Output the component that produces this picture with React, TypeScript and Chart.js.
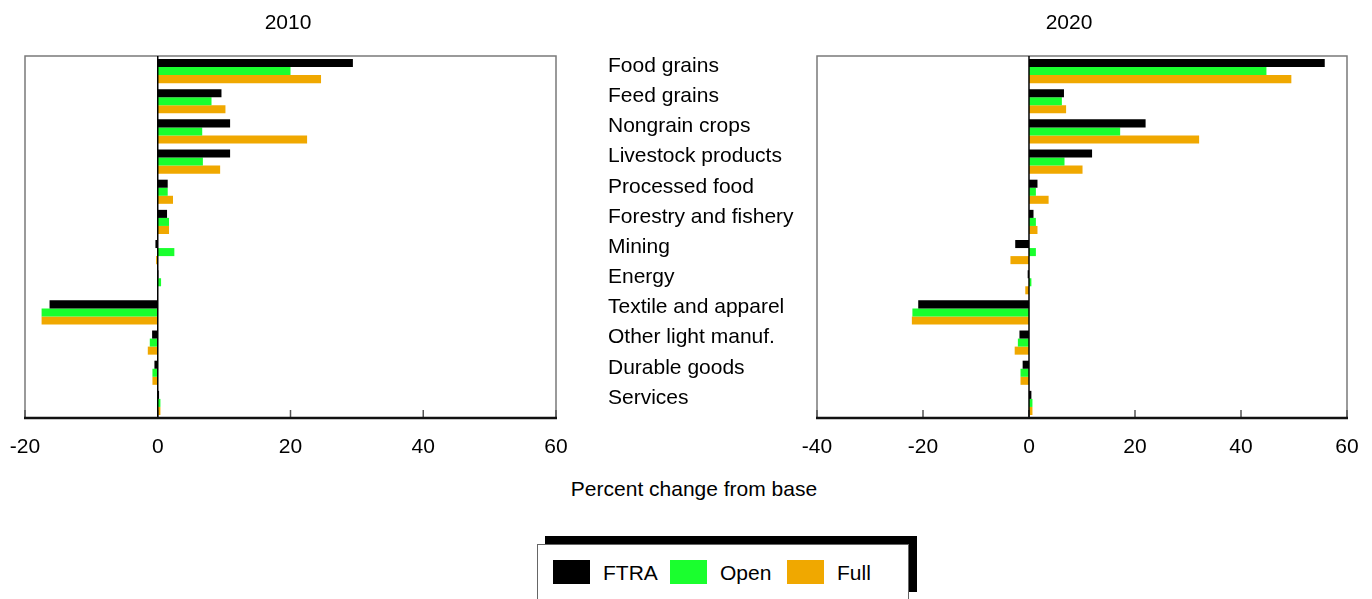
import React, { useEffect, useRef } from "react";
import { Chart, registerables } from "chart.js";

Chart.register(...registerables);

const FONT = '"Liberation Sans", Arial, Helvetica, sans-serif';

const categories = [
  "Food grains",
  "Feed grains",
  "Nongrain crops",
  "Livestock products",
  "Processed food",
  "Forestry and fishery",
  "Mining",
  "Energy",
  "Textile and apparel",
  "Other light manuf.",
  "Durable goods",
  "Services",
];

const seriesNames = ["FTRA", "Open", "Full"];
const seriesColors = ["#000000", "#1AFF2E", "#F0A800"];

const ftra2010 = [29.4, 9.6, 10.9, 10.9, 1.5, 1.4, -0.35, 0.1, -16.3, -0.85, -0.5, 0.2];
const open2010 = [20.0, 8.1, 6.7, 6.8, 1.5, 1.7, 2.5, 0.5, -17.5, -1.2, -0.8, 0.4];
const full2010 = [24.6, 10.2, 22.5, 9.4, 2.3, 1.7, -0.25, -0.1, -17.5, -1.5, -0.8, 0.4];

const ftra2020 = [55.8, 6.6, 22.0, 11.9, 1.6, 0.85, -2.6, -0.25, -20.9, -1.8, -1.2, 0.45];
const open2020 = [44.8, 6.2, 17.2, 6.7, 1.3, 1.3, 1.3, 0.45, -22.0, -2.1, -1.6, 0.65];
const full2020 = [49.5, 7.0, 32.1, 10.1, 3.7, 1.6, -3.5, -0.7, -22.1, -2.7, -1.6, 0.65];

const xMin2010 = -20;
const xMax2010 = 60;
const xMin2020 = -40;
const xMax2020 = 60;
const tickStep = 20;

const panelTitles = ["2010", "2020"];
const axisTitle = "Percent change from base";

const framePlugin = {
  id: "frameAndTicks",
  afterDatasetsDraw(chart: any) {
    const { ctx, chartArea: a, scales } = chart;
    const x = scales.x;
    ctx.save();
    // frame (top, left, right)
    ctx.strokeStyle = "#7a7a7a";
    ctx.lineWidth = 1.5;
    ctx.beginPath();
    ctx.moveTo(a.left, a.bottom);
    ctx.lineTo(a.left, a.top);
    ctx.lineTo(a.right, a.top);
    ctx.lineTo(a.right, a.bottom);
    ctx.stroke();
    // inward tick marks
    ctx.strokeStyle = "#555555";
    ctx.lineWidth = 1.5;
    x.ticks.forEach((t: any) => {
      const px = x.getPixelForValue(t.value);
      ctx.beginPath();
      ctx.moveTo(px, a.bottom);
      ctx.lineTo(px, a.bottom - 8);
      ctx.stroke();
    });
    // zero line
    const z = x.getPixelForValue(0);
    ctx.strokeStyle = "#000000";
    ctx.lineWidth = 1.5;
    ctx.beginPath();
    ctx.moveTo(z, a.top);
    ctx.lineTo(z, a.bottom);
    ctx.stroke();
    // bottom axis
    ctx.strokeStyle = "#111111";
    ctx.lineWidth = 2.5;
    ctx.beginPath();
    ctx.moveTo(a.left - 1, a.bottom);
    ctx.lineTo(a.right + 1, a.bottom);
    ctx.stroke();
    ctx.restore();
  },
};

function buildConfig(
  values: number[][],
  xMin: number,
  xMax: number,
  showLabels: boolean,
  padding: any
): any {
  return {
    type: "bar",
    data: {
      labels: categories,
      datasets: values.map((v, i) => ({
        label: seriesNames[i],
        data: v,
        backgroundColor: seriesColors[i],
        borderWidth: 0,
        categoryPercentage: 0.8,
        barPercentage: 1.0,
      })),
    },
    options: {
      indexAxis: "y",
      responsive: false,
      animation: false,
      layout: { padding },
      plugins: {
        legend: { display: false },
        title: { display: false },
        tooltip: { enabled: false },
      },
      scales: {
        x: {
          type: "linear",
          min: xMin,
          max: xMax,
          grid: { display: false, drawTicks: false },
          border: { display: false },
          ticks: {
            stepSize: tickStep,
            color: "#000",
            font: { family: FONT, size: 21 },
            padding: 17,
            maxRotation: 0,
          },
          afterFit: (s: any) => {
            s.height = 52;
            s.paddingLeft = 0;
            s.paddingRight = 0;
          },
        },
        y: showLabels
          ? {
              type: "category",
              grid: { display: false, drawTicks: false },
              border: { display: false },
              ticks: {
                color: "#000",
                font: { family: FONT, size: 21 },
                crossAlign: "far",
                labelOffset: -5,
                padding: 0,
              },
              afterFit: (s: any) => {
                s.width = 209;
              },
            }
          : { type: "category", display: false },
      },
    },
    plugins: [framePlugin],
  };
}

function Panel(props: {
  values: number[][];
  xMin: number;
  xMax: number;
  showLabels: boolean;
  left: number;
  width: number;
  padding: any;
}) {
  const ref = useRef<HTMLCanvasElement | null>(null);
  useEffect(() => {
    if (!ref.current) return;
    const chart = new Chart(
      ref.current,
      buildConfig(props.values, props.xMin, props.xMax, props.showLabels, props.padding)
    );
    return () => chart.destroy();
  }, []);
  return (
    <canvas
      ref={ref}
      width={props.width}
      height={470}
      style={{
        position: "fixed",
        left: props.left,
        top: 0,
        width: props.width,
        height: 470,
      }}
    />
  );
}

const textBase: React.CSSProperties = {
  position: "fixed",
  fontFamily: FONT,
  fontSize: 21,
  lineHeight: "24px",
  color: "#000",
  whiteSpace: "nowrap",
};

export default function App() {
  return (
    <div
      style={{
        position: "fixed",
        left: 0,
        top: 0,
        width: 1372,
        height: 599,
        overflow: "hidden",
        background: "#fff",
      }}
    >
      <Panel
        values={[ftra2010, open2010, full2010]}
        xMin={xMin2010}
        xMax={xMax2010}
        showLabels={false}
        left={0}
        width={600}
        padding={{ top: 56, left: 25, right: 44, bottom: 0 }}
      />
      <Panel
        values={[ftra2020, open2020, full2020]}
        xMin={xMin2020}
        xMax={xMax2020}
        showLabels={true}
        left={600}
        width={772}
        padding={{ top: 56, left: 8, right: 25, bottom: 0 }}
      />
      <div style={{ ...textBase, left: 188, top: 10, width: 200, textAlign: "center" }}>
        {panelTitles[0]}
      </div>
      <div style={{ ...textBase, left: 969, top: 10, width: 200, textAlign: "center" }}>
        {panelTitles[1]}
      </div>
      <div style={{ ...textBase, left: 494, top: 477, width: 400, textAlign: "center" }}>
        {axisTitle}
      </div>
      {/* legend shadow */}
      <div
        style={{
          position: "fixed",
          left: 545,
          top: 536,
          width: 372,
          height: 56,
          background: "#000",
        }}
      />
      <div
        style={{
          position: "fixed",
          left: 537,
          top: 544,
          width: 370,
          height: 70,
          background: "#fff",
          border: "1px solid #666",
        }}
      />
      {seriesNames.map((name, i) => {
        const boxLeft = [553, 670, 787][i];
        return (
          <React.Fragment key={name}>
            <div
              style={{
                position: "fixed",
                left: boxLeft,
                top: 560,
                width: 37,
                height: 24,
                background: seriesColors[i],
              }}
            />
            <div style={{ ...textBase, left: boxLeft + 50, top: 561 }}>{name}</div>
          </React.Fragment>
        );
      })}
    </div>
  );
}
